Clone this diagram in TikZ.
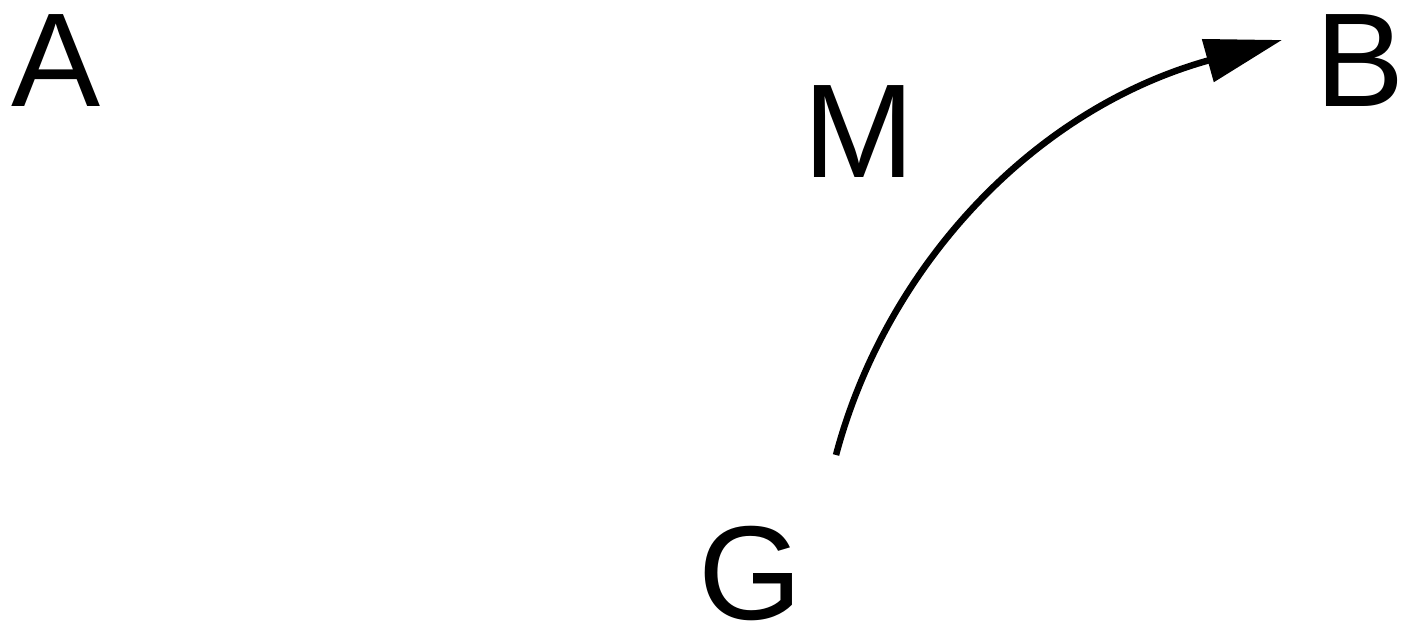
\documentclass[tikz,border=0pt]{standalone}
\usepackage{fontspec}
\setmainfont{Liberation Sans}
\usetikzlibrary{arrows.meta}
\begin{document}
\begin{tikzpicture}[x=0.01cm,y=-0.01cm,
  lbl/.style={anchor=base,inner sep=0pt,font=\fontsize{38}{40}\selectfont},
  conn/.style={line width=0.065cm,-{Triangle[length=0.77cm,width=0.43cm]}}]
\useasboundingbox (0,0) rectangle (1407,634);
\node[lbl] (A) at (56,107) {A};
\node[lbl] (B) at (1360,107) {B};
\node[lbl] (M) at (859,178) {M};
\node[lbl] (G) at (750,619) {G};
\coordinate (s) at (836,455);
\coordinate (t) at (1282,40);
\draw[conn] (s) .. controls (885,270) and (1030,110) .. (t);
\end{tikzpicture}
\end{document}
